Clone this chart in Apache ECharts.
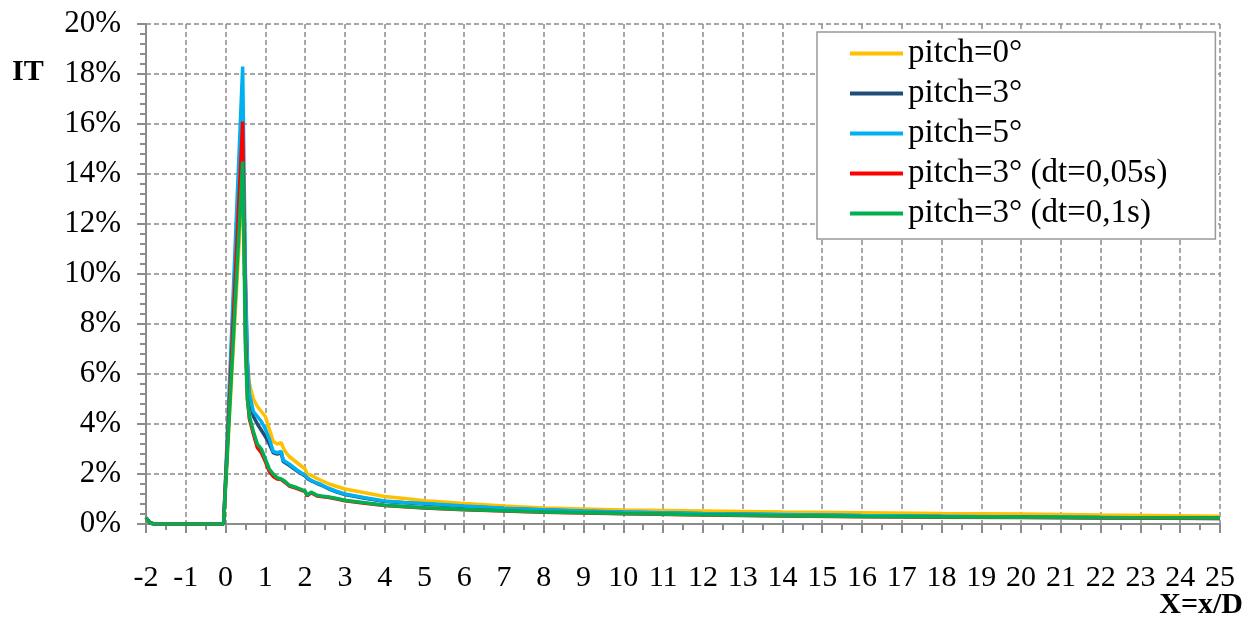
<!DOCTYPE html>
<html>
<head>
<meta charset="utf-8">
<script src="https://cdn.jsdelivr.net/npm/echarts@6/dist/echarts.min.js"></script>
<style>html,body{margin:0;padding:0;background:#fff}#c{width:1255px;height:619px}</style>
</head>
<body>
<div id="c"></div>
<script>
const xValues = [-2, -1.9, -1.8, -0.05, 0.43, 0.5, 0.55, 0.6, 0.7, 0.8, 0.9, 1.0, 1.1, 1.2, 1.3, 1.4, 1.45, 1.5, 1.6, 1.8, 2.0, 2.05, 2.15, 2.2, 2.3, 2.4, 2.6, 2.8, 3.0, 3.5, 4, 4.5, 5, 6, 7, 8, 9, 10, 12, 14, 16, 18, 20, 22, 25];
const pitch0 = [0.25,0.05,0,0,13.8,8.5,6.5,5.6,5.0,4.7,4.5,4.3,3.8,3.3,3.2,3.25,3.05,2.9,2.7,2.45,2.2,2.0,1.95,1.9,1.82,1.75,1.6,1.5,1.4,1.25,1.1,1.02,0.93,0.82,0.72,0.64,0.6,0.56,0.52,0.48,0.45,0.42,0.4,0.36,0.31];
const pitch3 = [0.25,0.05,0,0,15.8,9.5,6.3,5.0,4.3,4.0,3.75,3.5,3.2,2.85,2.8,2.85,2.5,2.45,2.35,2.12,1.92,1.82,1.73,1.68,1.62,1.56,1.4,1.28,1.18,1.03,0.9,0.85,0.8,0.7,0.62,0.56,0.51,0.47,0.41,0.37,0.33,0.3,0.28,0.26,0.24];
const pitch5 = [0.25,0.05,0,0,18.3,10,6.5,5.2,4.5,4.3,4.1,3.8,3.4,2.9,2.85,2.9,2.55,2.5,2.4,2.15,1.95,1.85,1.75,1.7,1.64,1.58,1.42,1.3,1.2,1.05,0.92,0.86,0.82,0.72,0.63,0.57,0.52,0.48,0.42,0.38,0.34,0.31,0.28,0.26,0.22];
const pitch3dt005 = [0.25,0.05,0,0,16.1,7.5,5,4.2,3.6,3.05,2.85,2.5,2.1,1.9,1.8,1.78,1.72,1.66,1.52,1.42,1.3,1.12,1.25,1.18,1.12,1.1,1.06,1.0,0.93,0.83,0.74,0.69,0.64,0.57,0.52,0.47,0.44,0.41,0.36,0.32,0.29,0.27,0.26,0.24,0.22];
const pitch3dt01 = [0.25,0.05,0,0,14.5,7,5,4.3,3.7,3.2,3.0,2.6,2.2,2.0,1.85,1.8,1.75,1.7,1.55,1.45,1.32,1.15,1.28,1.2,1.15,1.12,1.08,1.02,0.95,0.85,0.75,0.7,0.65,0.58,0.53,0.48,0.45,0.42,0.37,0.33,0.3,0.28,0.27,0.25,0.24];
const seriesNames = ['pitch=0°', 'pitch=3°', 'pitch=5°', 'pitch=3° (dt=0,05s)', 'pitch=3° (dt=0,1s)'];
const seriesColors = ['#FFC000', '#1F4E79', '#00B0F0', '#FF0000', '#00B050'];
const seriesValues = [pitch0, pitch3, pitch5, pitch3dt005, pitch3dt01];

const FONT = '"Liberation Serif", "Times New Roman", serif';
const chart = echarts.init(document.getElementById('c'), null, {renderer: 'canvas'});
const gridLine = {show: true, lineStyle: {color: '#8c8c8c', width: 1.5, type: [5, 3]}};
const axisLine = {show: true, onZero: false, lineStyle: {color: '#8c8c8c', width: 2}};

chart.setOption({
  animation: false,
  backgroundColor: '#fff',
  grid: {left: 146, right: 35, top: 24, bottom: 95},
  legend: {
    orient: 'vertical',
    left: 817, top: 32,
    padding: [5, 48, 9, 33],
    itemGap: 7,
    itemWidth: 53, itemHeight: 4,
    icon: 'rect',
    borderColor: '#999', borderWidth: 1.5,
    backgroundColor: '#fff',
    textStyle: {fontFamily: FONT, fontSize: 33, color: '#000'},
    data: seriesNames
  },
  xAxis: {
    type: 'value', min: -2, max: 25, interval: 1,
    axisLine: axisLine,
    axisTick: {show: true, inside: false, length: 9, lineStyle: {color: '#8c8c8c', width: 2}},
    minorTick: {show: true, splitNumber: 2, length: 6, lineStyle: {color: '#8c8c8c', width: 2}},
    splitLine: gridLine,
    axisLabel: {fontFamily: FONT, fontSize: 30, color: '#000', margin: 39}
  },
  yAxis: {
    type: 'value', min: 0, max: 20, interval: 2,
    axisLine: axisLine,
    axisTick: {show: true, inside: false, length: 9, lineStyle: {color: '#8c8c8c', width: 2}},
    minorTick: {show: true, splitNumber: 5, length: 6, lineStyle: {color: '#8c8c8c', width: 2}},
    splitLine: gridLine,
    axisLabel: {fontFamily: FONT, fontSize: 31, color: '#000', margin: 25, formatter: '{value}%'}
  },
  graphic: [
    {type: 'text', left: 12, top: 57, style: {text: 'IT', font: 'bold 30px ' + FONT, fill: '#000'}},
    {type: 'text', right: 12, top: 590, style: {text: 'X=x/D', font: 'bold 30px ' + FONT, fill: '#000'}}
  ],
  series: seriesNames.map((name, i) => ({
    name: name,
    type: 'line',
    showSymbol: false,
    symbol: 'none',
    color: seriesColors[i],
    lineStyle: {width: 3.5, color: seriesColors[i]},
    data: xValues.map((x, j) => [x, seriesValues[i][j]])
  }))
});
</script>
</body>
</html>
